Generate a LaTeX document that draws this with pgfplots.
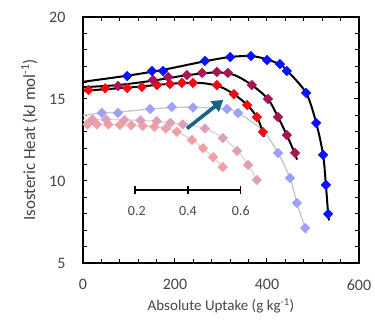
\documentclass[border=0pt]{standalone}
\usepackage{pgfplots}
\pgfplotsset{compat=1.18}
\usepackage{fontspec}
\setmainfont{Carlito}
\usetikzlibrary{arrows.meta}
\definecolor{cblue}{RGB}{10,20,250}
\definecolor{ccrim}{RGB}{170,20,85}
\definecolor{cred}{RGB}{240,10,20}
\definecolor{clblue}{RGB}{160,160,250}
\definecolor{clcrim}{RGB}{222,160,185}
\definecolor{clred}{RGB}{240,160,165}
\definecolor{cteal}{RGB}{25,100,130}
\definecolor{tgray}{RGB}{70,70,70}
\begin{document}
\begin{tikzpicture}
\useasboundingbox (-83pt,-58pt) rectangle (292pt,263pt);
\begin{axis}[
  scale only axis, width=276pt, height=246pt,
  xmin=0, xmax=600, ymin=5, ymax=20,
  xtick={0,200,400,600}, minor xtick={40,80,120,160,240,280,320,360,440,480,520,560},
  ytick={5,10,15,20}, minor ytick={6,7,8,9,11,12,13,14,16,17,18,19},
  tick align=inside, major tick length=4.5pt, minor tick length=4pt,
  every tick/.style={black, line width=1pt},
  axis line style={line width=1.5pt},
  ticklabel style={font=\fontsize{16}{18}\selectfont, text=tgray},
  /pgf/number format/assume math mode=true,
  xticklabel style={yshift=-13pt},
  yticklabel style={xshift=-14pt},
  xlabel={Absolute Uptake (g kg\textsuperscript{-1})},
  ylabel={Isosteric Heat (kJ mol\textsuperscript{-1})},
  xlabel style={font=\fontsize{15}{17}\selectfont, text=tgray, yshift=-1pt},
  ylabel style={font=\fontsize{17}{19}\selectfont, text=tgray, yshift=5pt},
  clip=false,
  mark size=3.4pt,
]
% faded series lines
\addplot[smooth, color=black!22, line width=1.3pt, mark=none] coordinates {(0,14.0)(41,14.15)(76,14.2)(146,14.39)(193,14.48)(239,14.5)(313,14.39)(337,14.15)(390,13.1)(424,11.71)(450,10.18)(465,8.66)(483,7.13)(486,6.8)};
\addplot[smooth, color=black!15, line width=1.3pt, mark=none] coordinates {(0,13.7)(70,13.75)(150,13.65)(230,13.4)(265,13.2)(304,12.65)(335,11.85)(359,11.0)(378,10.05)};
\addplot[smooth, color=black!15, line width=1.3pt, mark=none] coordinates {(0,13.45)(60,13.45)(140,13.35)(175,13.25)(205,13.0)(237,12.5)(261,12.0)(283,11.45)(304,10.85)};
% faded markers
\addplot[only marks, mark=square*, mark options={rotate=45}, color=clred] coordinates {(10,13.45)(30,13.45)(55,13.45)(80,13.42)(105,13.4)(130,13.35)(155,13.3)(180,13.2)(204,13.0)(237,12.5)(261,12.0)(283,11.45)(304,10.85)};
\addplot[only marks, mark=square*, mark options={rotate=45}, color=clcrim] coordinates {(20,13.75)(50,13.75)(90,13.72)(125,13.7)(160,13.65)(190,13.55)(217,13.45)(265,13.2)(304,12.62)(335,11.83)(359,10.98)(378,10.06)};
\addplot[only marks, mark=square*, mark options={rotate=45}, color=clblue] coordinates {(41,14.15)(76,14.15)(146,14.39)(193,14.51)(239,14.48)(313,14.39)(337,14.15)(424,11.71)(450,10.18)(465,8.66)(483,7.13)};
% fit lines
\addplot[smooth, black, line width=2pt, mark=none] coordinates {(0,15.5)(100,15.7)(200,15.95)(255,15.98)(295,15.78)(328,15.3)(357,14.63)(378,13.9)(391,12.99)(394,12.7)};
\addplot[smooth, black, line width=2pt, mark=none] coordinates {(0,15.72)(76,15.85)(152,16.12)(226,16.45)(291,16.62)(330,16.45)(367,15.85)(402,15.0)(424,13.9)(443,12.8)(461,11.65)(465,11.3)};
\addplot[smooth, black, line width=2pt, mark=none] coordinates {(0,16.05)(96,16.42)(174,16.78)(265,17.3)(320,17.56)(365,17.62)(400,17.42)(428,17.1)(443,16.75)(485,15.37)(507,13.54)(522,11.59)(528,9.76)(533,7.99)(535,7.6)};
% bold markers
\addplot[only marks, mark=square*, mark options={rotate=45}, color=cred] coordinates {(12,15.55)(48,15.65)(96,15.67)(128,15.73)(161,15.85)(189,15.91)(215,15.98)(239,15.98)(291,15.85)(328,15.30)(357,14.63)(378,13.90)(391,12.99)};
\addplot[only marks, mark=square*, mark options={rotate=45}, color=ccrim] coordinates {(76,15.79)(152,16.16)(185,16.34)(226,16.46)(259,16.59)(291,16.65)(315,16.59)(367,15.85)(402,15.0)(424,13.90)(443,12.80)(461,11.71)};
\addplot[only marks, mark=square*, mark options={rotate=45}, color=cblue] coordinates {(96,16.4)(150,16.71)(174,16.71)(265,17.32)(320,17.56)(365,17.62)(400,17.38)(428,17.13)(443,16.71)(485,15.37)(507,13.54)(522,11.59)(528,9.76)(533,7.99)};
% scale bar
\addplot[black, line width=1.4pt, mark=|, mark size=4pt, mark options={line width=1.4pt}] coordinates {(113,9.45)(228,9.45)(343,9.45)};
\node[font=\fontsize{14}{16}\selectfont, text=tgray] at (axis cs:117,8.2) {0.2};
\node[font=\fontsize{14}{16}\selectfont, text=tgray] at (axis cs:228,8.2) {0.4};
\node[font=\fontsize{14}{16}\selectfont, text=tgray] at (axis cs:343,8.2) {0.6};
% arrow
\draw[cteal, line width=3.6pt, -{Triangle[length=11pt,width=13pt]}] (axis cs:226,13.2) -- (axis cs:305,14.95);
\end{axis}
\end{tikzpicture}
\end{document}
